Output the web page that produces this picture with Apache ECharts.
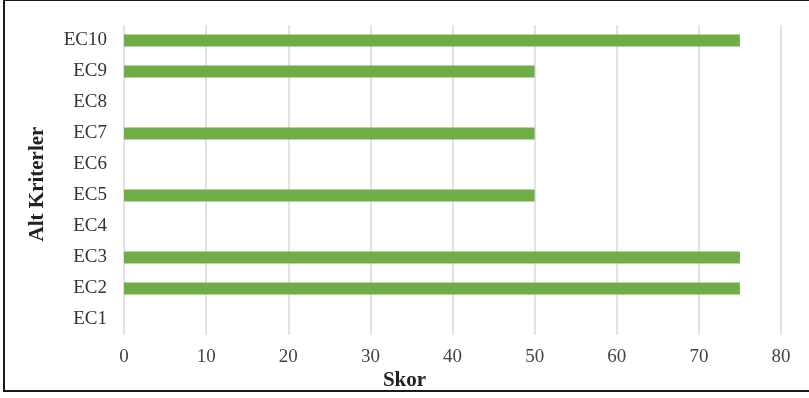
<!DOCTYPE html>
<html>
<head>
<meta charset="utf-8">
<script src="https://cdn.jsdelivr.net/npm/echarts@6/dist/echarts.min.js"></script>
<style>
  html, body { margin: 0; padding: 0; background: #fff; }
  #frame { position: absolute; left: 3px; top: -1px; width: 830px; height: 393px; border: 2px solid #1a1a1a; box-sizing: border-box; }
  #chart { position: absolute; left: 0; top: 0; width: 809px; height: 398px; }
</style>
</head>
<body>
<div id="frame"></div>
<div id="chart"></div>
<script>
// Sub-criteria scores
const categories = ['EC1', 'EC2', 'EC3', 'EC4', 'EC5', 'EC6', 'EC7', 'EC8', 'EC9', 'EC10'];
const scores = [0, 75, 75, 0, 50, 0, 50, 0, 50, 75];
const xTicks = { min: 0, max: 80, interval: 10 };
const xTitle = 'Skor';
const yTitle = 'Alt Kriterler';

const font = '"Liberation Serif", "Times New Roman", serif';
const titleStyle = { fontFamily: font, fontSize: 21, fontWeight: 'bold', fill: '#222' };
const chart = echarts.init(document.getElementById('chart'), null, { renderer: 'canvas' });
chart.setOption({
  animation: false,
  grid: { left: 124, right: 28, top: 25, bottom: 63, containLabel: false },
  xAxis: {
    type: 'value',
    min: xTicks.min, max: xTicks.max, interval: xTicks.interval,
    axisLine: { show: false }, axisTick: { show: false },
    axisLabel: { fontFamily: font, fontSize: 19, color: '#444', margin: 13 },
    splitLine: { lineStyle: { color: '#d9d9d9', width: 1.5 } }
  },
  yAxis: {
    type: 'category', data: categories,
    axisLine: { show: false }, axisTick: { show: false },
    axisLabel: { fontFamily: font, fontSize: 19, color: '#333', margin: 17 },
    splitLine: { show: false }
  },
  graphic: [
    { type: 'text', left: 'center', top: 370,
      style: Object.assign({ text: xTitle }, titleStyle) },
    { type: 'text', x: 38, y: 184, rotation: Math.PI / 2,
      style: Object.assign({ text: yTitle, align: 'center', verticalAlign: 'middle' }, titleStyle) }
  ],
  series: [{
    type: 'bar', data: scores, barWidth: 12,
    itemStyle: { color: '#70ad47' }
  }]
});
</script>
</body>
</html>
